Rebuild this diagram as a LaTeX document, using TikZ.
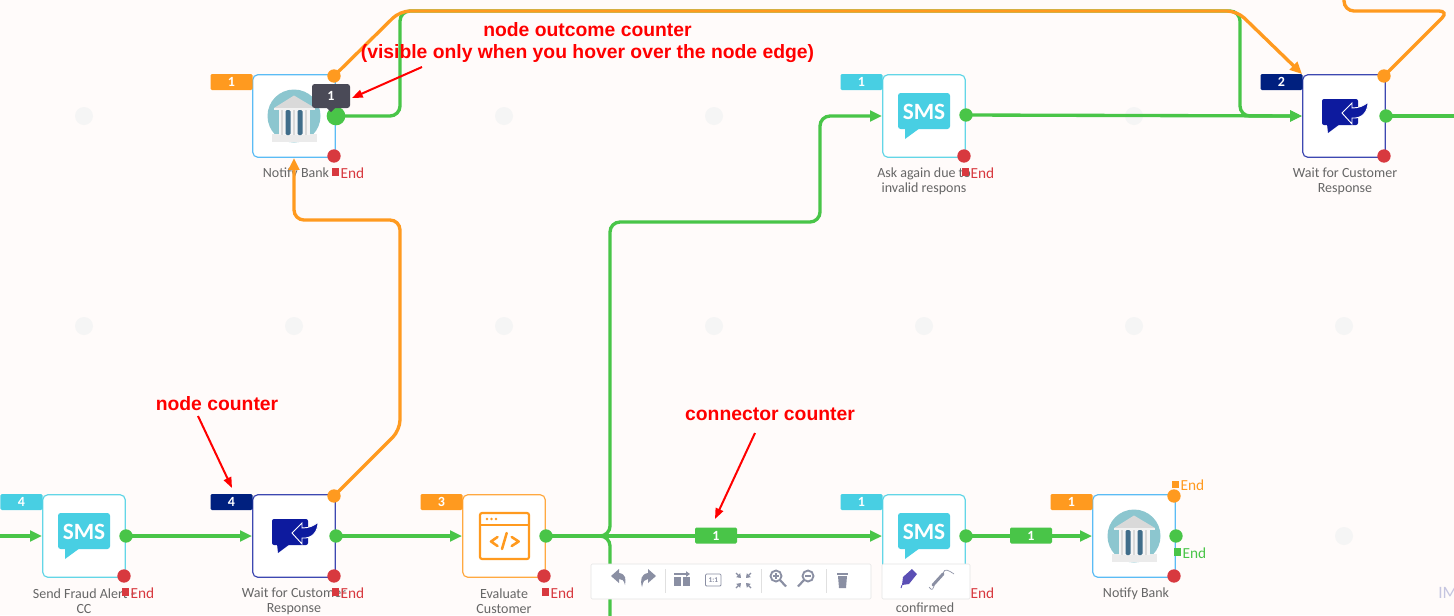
\documentclass[tikz,border=0pt]{standalone}
\usepackage{fontspec}
\setmainfont{Carlito}
\newfontfamily\annofont{Liberation Sans}
\usetikzlibrary{arrows.meta,shapes.geometric}
\definecolor{bgc}{HTML}{FFFBFA}
\definecolor{gridc}{HTML}{F5F5F5}
\definecolor{gc}{HTML}{49C548}
\definecolor{oc}{HTML}{FF9A1F}
\definecolor{rc}{HTML}{D8393F}
\definecolor{smsc}{HTML}{48CFE3}
\definecolor{bankc}{HTML}{5BBCF5}
\definecolor{waitc}{HTML}{0D1A9E}
\definecolor{waitb}{HTML}{00207F}
\definecolor{labelc}{HTML}{666666}
\definecolor{toolc}{HTML}{8A8FA3}
\definecolor{tipc}{HTML}{4A4A57}
\definecolor{globec}{HTML}{8CC6CF}
\definecolor{pillarc}{HTML}{3F6D8A}
\definecolor{tagc}{HTML}{5B4FB5}
\newcommand{\labfont}{\fontsize{10.5}{11.25}\selectfont}
\tikzset{
  x=0.75pt,y=-0.75pt,
  griddot/.style={circle,fill=gridc,minimum size=13.5pt,inner sep=0pt},
  flowbox/.style={draw=#1,line width=0.9pt,fill=white,rounded corners=4pt,minimum size=62pt,inner sep=0pt},
  badge/.style={fill=#1,rounded corners=1pt,minimum width=31.5pt,minimum height=12pt,inner sep=0pt,text=white,font=\fontsize{10.5}{10.5}\selectfont\bfseries},
  portdot/.style={circle,fill=#1,minimum size=10pt,inner sep=0pt},
  caption/.style={text=labelc,align=center,font=\labfont,inner sep=0pt},
  endtag/.style={text=#1,font=\fontsize{11.5}{12}\selectfont,inner sep=0pt},
  endsq/.style={fill=#1,minimum size=5.5pt,inner sep=0pt},
  wire/.style={draw=#1,line width=2.5pt,rounded corners=7.5pt},
  tipend/.style={-{Triangle[length=9pt,width=8pt]}},
  annot/.style={text=red,font=\annofont\fontsize{14.5}{16.5}\selectfont\bfseries,align=center,inner sep=0pt},
  annotarrow/.style={draw=red,line width=1.5pt,-{Triangle[length=8pt,width=6pt]}},
  panel/.style={draw=black!10,fill=white,rounded corners=1pt,inner sep=0pt},
  toolsep/.style={draw=black!12,line width=0.6pt},
  smspic/.pic={
    \fill[smsc,rounded corners=2pt] (-26,-23) rectangle (26,13);
    \fill[smsc] (-19,12) -- (-19,23) -- (-4,12) -- cycle;
    \node[text=white,font=\fontsize{17.5}{17.5}\selectfont\bfseries,inner sep=0pt] at (0,-4) {SMS};
  },
  waitpic/.pic={
    \fill[waitc,rounded corners=1.5pt] (-22,-17) rectangle (14,9);
    \fill[waitc] (-17,8) -- (-16,17) -- (-4,8) -- cycle;
    \filldraw[fill=waitc,draw=white,line width=0.7pt,line join=miter] (-2,-3) -- (8,-13) -- (8,-8)
      .. controls (14,-8) and (20,-10) .. (24,-14)
      .. controls (24,-4) and (18,3) .. (8,2) -- (8,8) -- cycle;
    \fill[waitc] (10,-12) rectangle (14,-9);
  },
  bankpic/.pic={
    \fill[globec] (0,0) circle (26.5);
    \fill[black!8] (-22,18) rectangle (23,26);
    \fill[black!4] (-15,-6) rectangle (16,19);
    \foreach \cx in {-13,-1,11}{\fill[black!15] (\cx,-6) rectangle (\cx+2,19);}
    \fill[pillarc,rounded corners=1pt] (-8.5,-6) rectangle (-3.5,19);
    \fill[pillarc,rounded corners=1pt] (3.5,-6) rectangle (8.5,19);
    \fill[black!15] (-20,-8) -- (0,-20.5) -- (21,-8) -- cycle;
    \fill[black!5] (-20,-8) rectangle (21,-6);
  },
  codepic/.pic={
    \draw[oc,line width=1.6pt,rounded corners=1.5pt] (-24,-23) rectangle (25,23);
    \draw[oc,line width=1.6pt] (-24,-11) -- (25,-11);
    \foreach \cx in {-17,-12.5,-8}{\fill[oc] (\cx,-17) circle (1.3);}
    \draw[oc,line width=1.9pt,line cap=round,line join=round] (-6.5,1) -- (-13,5.5) -- (-6.5,10);
    \draw[oc,line width=1.9pt,line cap=round,line join=round] (7.7,1) -- (14.7,5.5) -- (7.7,10);
    \draw[oc,line width=1.9pt,line cap=round] (2.7,-3) -- (-2,13);
  }
}
\begin{document}
\begin{tikzpicture}
\useasboundingbox (0,0) rectangle (1454,615);
\clip (0,0) rectangle (1454,615);
\fill[bgc] (0,0) rectangle (1454,615);

% background grid points
\foreach \gx/\gy [count=\gi] in {84/116,504/116,714/116,1134/116,84/326,294/326,504/326,714/326,924/326,1134/326,1344/326,1344/536}
  \node[griddot] (grid\gi) at (\gx,\gy) {};

% flow steps
\node[flowbox=bankc] (bankA) at (294,116) {};
\node[flowbox=smsc!85] (askB) at (924,116) {};
\node[flowbox=waitc!80] (waitC) at (1344,116) {};
\node[flowbox=smsc!85] (smsD) at (84,536) {};
\node[flowbox=waitc!80] (waitE) at (294,536) {};
\node[flowbox=oc!85] (evalF) at (504,536) {};
\node[flowbox=smsc!85] (smsG) at (924,536) {};
\node[flowbox=bankc] (bankH) at (1134,536) {};

\pic at (bankA) {bankpic};
\pic at (askB) {smspic};
\pic at (waitC) {waitpic};
\pic at (smsD) {smspic};
\pic at (waitE) {waitpic};
\pic at (evalF) {codepic};
\pic at (smsG) {smspic};
\pic at (bankH) {bankpic};

% step captions
\node[caption] (capA) at (296,174) {Notify Bank};
\node[caption] (capB) at (924,181.5) {Ask again due to\\invalid respons};
\node[caption] (capC) at (1345,181.5) {Wait for Customer\\Response};
\node[caption] (capD) at (84,601.5) {Send Fraud Alert -\\CC};
\node[caption] (capE) at (294,601.5) {Wait for Customer\\Response};
\node[caption] (capF) at (504,601.5) {Evaluate\\Customer};
\node[caption] (capG) at (925,608) {confirmed};
\node[caption] (capH) at (1136,594) {Notify Bank};

% output ports
\coordinate (oA) at (334,76);
\coordinate (gA) at (336,116);
\coordinate (rA) at (334,156);
\coordinate (gB) at (966,115);
\coordinate (rB) at (964,156);
\coordinate (oC) at (1384,76);
\coordinate (gC) at (1386,116);
\coordinate (rC) at (1384,156);
\coordinate (gD) at (126,536);
\coordinate (rD) at (124,576);
\coordinate (oE) at (334,496);
\coordinate (gE) at (336,536);
\coordinate (rE) at (334,576);
\coordinate (gF) at (546,536);
\coordinate (rF) at (544,576);
\coordinate (gG) at (966,536);
\coordinate (oH) at (1174,496);
\coordinate (gH) at (1176,536);
\coordinate (rH) at (1174,576);

% bend points and free ends
\coordinate (bendA1) at (400,116);
\coordinate (bendA2) at (400,11);
\coordinate (bendA3) at (1240,11);
\coordinate (bendA4) at (1240,116);
\coordinate (bendO1) at (1237,11);
\coordinate (cornerC) at (1302,74);
\coordinate (bendC1) at (1449,11);
\coordinate (bendC2) at (1344,11);
\coordinate (freeC) at (1344,-8);
\coordinate (bendE1) at (400,430);
\coordinate (bendE2) at (400,220);
\coordinate (bendE3) at (294,220);
\coordinate (bendF1) at (610,536);
\coordinate (bendF2) at (610,222);
\coordinate (bendF3) at (820,222);
\coordinate (bendF4) at (820,116);
\coordinate (freeF) at (610,625);
\coordinate (freeIn) at (-8,536);
\coordinate (freeOut) at (1462,116);

% connectors
\draw[wire=gc,tipend] (gA) -- (bendA1) -- (bendA2) -- (bendA3) -- (bendA4) -- (waitC.west);
\draw[wire=gc,tipend] (gF) -- (bendF1) -- (bendF2) -- (bendF3) -- (bendF4) -- (askB.west);
\draw[wire=gc] (gF) -- (bendF1) -- (freeF);
\draw[wire=gc,tipend] (gF) -- (smsG.west);
\draw[wire=gc,tipend] (gB) -- (waitC.west);
\draw[wire=gc] (gC) -- (freeOut);
\draw[wire=gc,tipend] (freeIn) -- (smsD.west);
\draw[wire=gc,tipend] (gD) -- (waitE.west);
\draw[wire=gc,tipend] (gE) -- (evalF.west);
\draw[wire=gc,tipend] (gG) -- (bankH.west);
\draw[wire=oc,tipend] (oA) -- (bendA2) -- (bendO1) -- (cornerC);
\draw[wire=oc] (oC) -- (bendC1) -- (bendC2) -- (freeC);
\draw[wire=oc,tipend] (oE) -- (bendE1) -- (bendE2) -- (bendE3) -- (bankA.south);

% ports above the connectors
\foreach \pn in {oA,oC,oE,oH} \node[portdot=oc] at (\pn) {};
\foreach \pn in {gB,gC,gD,gE,gF,gG,gH} \node[portdot=gc] at (\pn) {};
\foreach \pn in {rA,rB,rC,rD,rE,rF,rH} \node[portdot=rc] at (\pn) {};
\node[portdot=gc,minimum size=14pt] at (gA) {};

% step counters
\node[badge=oc] (cntA) at (231.5,82) {\raisebox{-1pt}{1}};
\node[badge=smsc] (cntB) at (861.5,82) {\raisebox{-1pt}{1}};
\node[badge=waitb] (cntC) at (1281.5,82) {\raisebox{-1pt}{2}};
\node[badge=smsc] (cntD) at (21.5,502) {\raisebox{-1pt}{4}};
\node[badge=waitb] (cntE) at (231.5,502) {\raisebox{-1pt}{4}};
\node[badge=oc] (cntF) at (441.5,502) {\raisebox{-1pt}{3}};
\node[badge=smsc] (cntG) at (861.5,502) {\raisebox{-1pt}{1}};
\node[badge=oc] (cntH) at (1071.5,502) {\raisebox{-1pt}{1}};

% connector counters
\node[badge=gc] (linkA) at (716,535.5) {\raisebox{-1pt}{1}};
\node[badge=gc] (linkB) at (1031,535.5) {\raisebox{-1pt}{1}};

% end markers
\foreach \sx/\sy/\tx/\col in {335.5/172/352.5/rc,965.5/172/982.5/rc,125.5/592/142.5/rc,335.5/592/352.5/rc,545.5/592/562.5/rc,1175.5/484.5/1192.5/oc,1177.5/552/1194.5/gc}{
  \node[endsq=\col] at (\sx,\sy) {};
  \node[endtag=\col] at (\tx,\sy+1) {End};
}
\node[endtag=rc] (endG) at (982.5,593) {End};

% outcome tooltip
\fill[tipc] (326,107) -- (331,112) -- (336,107) -- cycle;
\node[fill=tipc,rounded corners=2pt,minimum width=28.5pt,minimum height=18pt,inner sep=0pt,text=white,font=\fontsize{10.5}{10.5}\selectfont\bfseries] (tipA) at (331,96) {1};

% canvas toolbar
\node[panel,minimum width=210pt,minimum height=26.25pt] (barL) at (731,581.5) {};
\node[panel,minimum width=66pt,minimum height=26.25pt] (barR) at (926,581.5) {};
\foreach \sepx in {665,761,826} \draw[toolsep] (\sepx,569) -- (\sepx,593);
% undo and redo
\fill[toolc] (611,576) -- (619,569) -- (619,573) .. controls (626,574) and (626,579) .. (625,585) .. controls (624,580) and (622,579) .. (619,579) -- (619,583) -- cycle;
\fill[toolc] (656,576) -- (648,569) -- (648,573) .. controls (641,574) and (640,580) .. (642,587) .. controls (643,581) and (645,579) .. (648,579) -- (648,583) -- cycle;
% layout
\fill[toolc] (674,577) rectangle (681,586);
\fill[toolc] (683,577) rectangle (690,586);
\draw[toolc,line width=0.9pt,-{Triangle[length=3pt,width=4pt]}] (674,574) -- (690,574);
% one to one
\draw[toolc,line width=0.6pt,rounded corners=0.8pt] (705.5,574) rectangle (721,586);
\node[text=toolc,font=\fontsize{5.5}{5.5}\selectfont\bfseries,inner sep=0pt] (oneone) at (713.3,580) {1:1};
% fit to view
\foreach \ax/\ay/\bx/\by in {736/573/741/578,751/573/746/578,736/588/741/583,751/588/746/583}
  \draw[toolc,line width=1pt,-{Triangle[length=3pt,width=4pt]}] (\ax,\ay) -- (\bx,\by);
% zoom in and out
\foreach \zx/\sg in {776/1,808/-1}{
  \draw[toolc,line width=1.4pt] (\zx,576) circle (5.5);
  \draw[toolc,line width=1.6pt] (\zx+\sg*4,580) -- (\zx+\sg*10,586.5);
  \draw[toolc,line width=1pt] (\zx-3,576) -- (\zx+3,576);
}
\draw[toolc,line width=1pt] (776,573) -- (776,579);
% bin
\fill[toolc] (836.5,573) rectangle (848,575);
\fill[toolc] (838,576) -- (847,576) -- (846,588) -- (839,588) -- cycle;
% tag and wire tools
\fill[tagc] (902,585) -- (903,577) -- (912,569) -- (917,574) -- (909,584) -- cycle;
\draw[tagc,line width=0.7pt] (902,585) -- (901,588);
\draw[toolc,line width=2.2pt,line cap=round] (933,585) -- (943,574);
\draw[toolc,line width=0.5pt] (929,587) .. controls (932,592) and (934,588) .. (934,586);
\draw[toolc,line width=0.5pt] (943,573) .. controls (945,568) and (948,570) .. (954,574);

% faint corner text
\node[text=blue!30!gray!35,font=\fontsize{13}{13}\selectfont,inner sep=0pt,anchor=west] (corner) at (1438,593) {IM};

% annotations
\node[annot] (noteA) at (587.5,42.5) {node outcome counter\\(visible only when you hover over the node edge)};
\node[annot] (noteB) at (217,403.5) {node counter};
\node[annot] (noteC) at (770,414.5) {connector counter};
\coordinate (aimA) at (352,98);
\coordinate (tailA) at (422,67);
\coordinate (aimB) at (232,488);
\coordinate (tailB) at (198,416);
\coordinate (aimC) at (715,519);
\coordinate (tailC) at (755,433);
\draw[annotarrow] (tailA) -- (aimA);
\draw[annotarrow] (tailB) -- (aimB);
\draw[annotarrow] (tailC) -- (aimC);
\end{tikzpicture}
\end{document}
